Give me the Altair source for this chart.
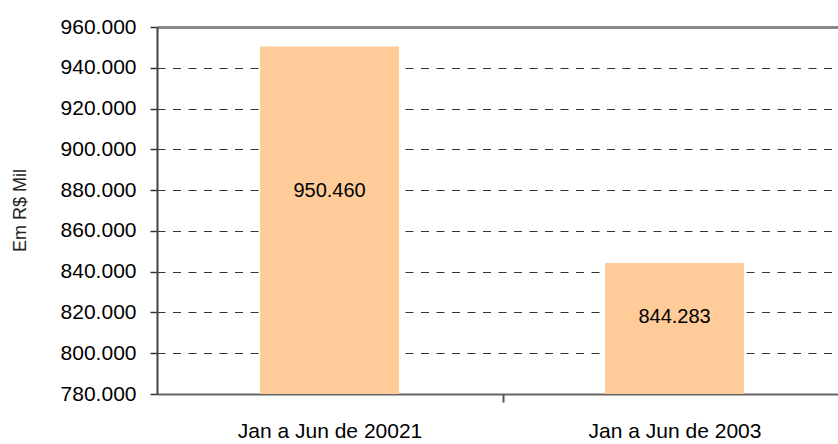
import altair as alt
import pandas as pd

# Half-year totals, in R$ thousands
periods = ["Jan a Jun de 20021", "Jan a Jun de 2003"]
totals = [950460, 844283]

y_ticks = [780000, 800000, 820000, 840000, 860000, 880000, 900000, 920000, 940000, 960000]

df = pd.DataFrame({"periodo": periods, "valor": totals})

FONT = "Liberation Sans"
Y_MIN, Y_MAX = 780000, 960000
HALF_STEP = 173  # ticks sit between the bars, labels stay centred

x_enc = alt.X(
    "periodo:N",
    sort=periods,
    title=None,
    scale=alt.Scale(paddingInner=0.597, paddingOuter=0.2855, align=0.523),
    axis=alt.Axis(
        labelAngle=0,
        labelFont=FONT,
        labelFontSize=21,
        labelColor="#000000",
        labelPadding=18,
        labelBaseline="top",
        labelLimit=0,
        tickOffset=HALF_STEP,
        labelOffset=-HALF_STEP,
        tickSize=8,
        tickColor="#555555",
        tickWidth=2,
        domainColor="#666666",
        domainWidth=2,
        grid=False,
    ),
)

y_scale = alt.Scale(domain=[Y_MIN, Y_MAX], nice=False, zero=False)

bars = alt.Chart(df).mark_bar(color="#FFCC99", clip=True).encode(
    x=x_enc,
    y=alt.Y(
        "valor:Q",
        scale=y_scale,
        title="Em R$ Mil",
        axis=alt.Axis(
            values=y_ticks,
            labelExpr="replace(format(datum.value, ','), ',', '.')",
            labelFont=FONT,
            labelFontSize=21,
            labelColor="#000000",
            labelPadding=14,
            tickSize=7,
            tickColor="#333333",
            tickWidth=1.5,
            domainColor="#444444",
            domainWidth=2,
            grid=True,
            gridColor=alt.condition("datum.value == 960000", alt.value("#888888"), alt.value("#333333")),
            gridDash=alt.condition("datum.value == 960000", alt.value([]), alt.value([8, 7.5])),
            gridWidth=alt.condition("datum.value == 960000", alt.value(3), alt.value(1)),
            titleFont=FONT,
            titleFontSize=18,
            titleFontWeight="normal",
            titleColor="#222222",
            titleAngle=270,
            titleBaseline="middle",
            titleX=-137,
            titleY=183,
        ),
    ),
    y2=alt.datum(Y_MIN),
)

# Value labels placed inside each bar
labels = alt.Chart(df).transform_calculate(
    rotulo="replace(format(datum.valor, ','), ',', '.')",
    pos=f"{Y_MIN} + 0.585 * (datum.valor - {Y_MIN})",
).mark_text(font=FONT, fontSize=20, color="#000000", baseline="middle", align="center").encode(
    x=alt.X("periodo:N", sort=periods),
    y=alt.Y("pos:Q", scale=y_scale),
    text="rotulo:N",
)

chart = (
    alt.layer(bars, labels)
    .properties(
        width=681,
        height=367,
        autosize=alt.AutoSizeParams(type="none"),
        padding={"left": 157, "top": 27, "right": 0, "bottom": 50},
        background="#ffffff",
    )
    .configure_view(stroke=None)
)

chart.save("out.html", embed_options={"renderer": "svg", "actions": False})
